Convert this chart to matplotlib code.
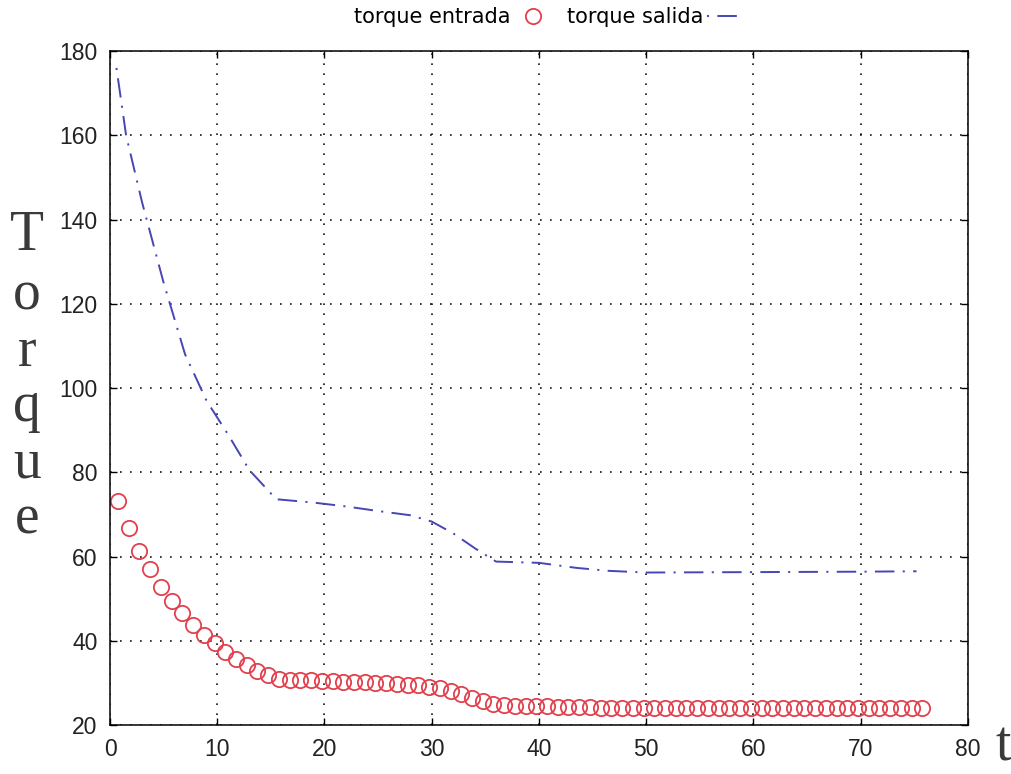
import numpy as np
import matplotlib
matplotlib.use('Agg')
import matplotlib.pyplot as plt

# torque entrada: one sample per unit of t (first sample sits at t = 0.75)
t_in = np.arange(76) + 0.75
torque_in = [
    73.3, 66.8, 61.4, 57.0, 52.7, 49.5, 46.7, 43.8, 41.4, 39.5,
    37.4, 35.7, 34.3, 32.9, 31.9, 31.0, 30.7, 30.6, 30.6, 30.5,
    30.4, 30.3, 30.2, 30.1, 30.0, 29.9, 29.8, 29.6, 29.4, 29.1,
    28.7, 28.1, 27.3, 26.4, 25.6, 25.0, 24.7, 24.6, 24.5, 24.5,
    24.4, 24.3, 24.3, 24.2, 24.2, 24.1, 24.1, 24.0, 24.0, 24.0,
    24.0, 24.0, 24.0, 24.0, 24.0, 24.0, 24.0, 24.0, 24.0, 24.0,
    24.0, 24.0, 24.0, 24.0, 24.0, 24.0, 24.0, 24.0, 24.0, 24.0,
    24.0, 24.0, 24.0, 24.0, 24.0, 24.0,
]

# torque salida: vertices of the dash-dot curve
t_out = [0.6, 1.5, 3, 5, 7, 9, 11, 13, 15.5, 19, 22, 25, 28, 30,
         32, 34, 36, 40, 43.5, 46.5, 50, 60, 70, 75.2]
torque_out = [176, 160, 144, 125, 108, 97, 89, 80.5, 73.6, 72.8, 71.9,
              70.8, 69.8, 68.3, 65.5, 62, 58.8, 58.5, 57.3, 56.6, 56.2,
              56.3, 56.4, 56.5]

x_ticks = [0, 10, 20, 30, 40, 50, 60, 70, 80]
y_ticks = [20, 40, 60, 80, 100, 120, 140, 160, 180]
ylabel_letters = ['T', 'o', 'r', 'q', 'u', 'e']

plt.rcParams['lines.scale_dashes'] = False

fig = plt.figure(figsize=(10.12, 7.74), dpi=100)
ax = fig.add_axes([0.1087, 0.0633, 0.9565 - 0.1087, 0.934 - 0.0633])

ax.plot(t_in, torque_in, linestyle='none', marker='o', markersize=11,
        markerfacecolor='none', markeredgecolor='#e2404c', markeredgewidth=1.3,
        label='torque entrada')
ax.plot(t_out, torque_out, color='#4646b4', lw=1.4,
        linestyle=(0, (1.5, 6, 14, 6)), label='torque salida')

ax.set_xlim(0, 80)
ax.set_ylim(20, 180)
ax.set_xticks(x_ticks)
ax.set_yticks(y_ticks)
ax.grid(True, color='black', linestyle=(0, (1.2, 6)), lw=1.1)
ax.tick_params(direction='in', length=5, width=1, top=True, right=True,
               pad=9, labelsize=16.5, labelcolor='#222222')
for lab in ax.get_xticklabels() + ax.get_yticklabels():
    lab.set_family('Liberation Sans')
for sp in ax.spines.values():
    sp.set_linewidth(1.1)

fig.legend(loc='center', bbox_to_anchor=(0.542, 0.978), ncol=2,
           markerfirst=False, frameon=False, handlelength=1.7,
           handletextpad=0.2, columnspacing=0.8,
           prop={'family': 'DejaVu Sans', 'size': 15})

# stacked serif y label
baselines = [250, 309, 366, 421, 477, 533]
for ch, yb in zip(ylabel_letters, baselines):
    fig.text(0.0267, 1 - yb / 774, ch, ha='center', va='baseline',
             family='Liberation Serif', fontsize=40, color='#3a3a3a')
fig.text(0.991, 0.002, 't', ha='center', va='bottom',
         family='Liberation Serif', fontsize=40, color='#3a3a3a')

fig.savefig('out.png', dpi=100)
